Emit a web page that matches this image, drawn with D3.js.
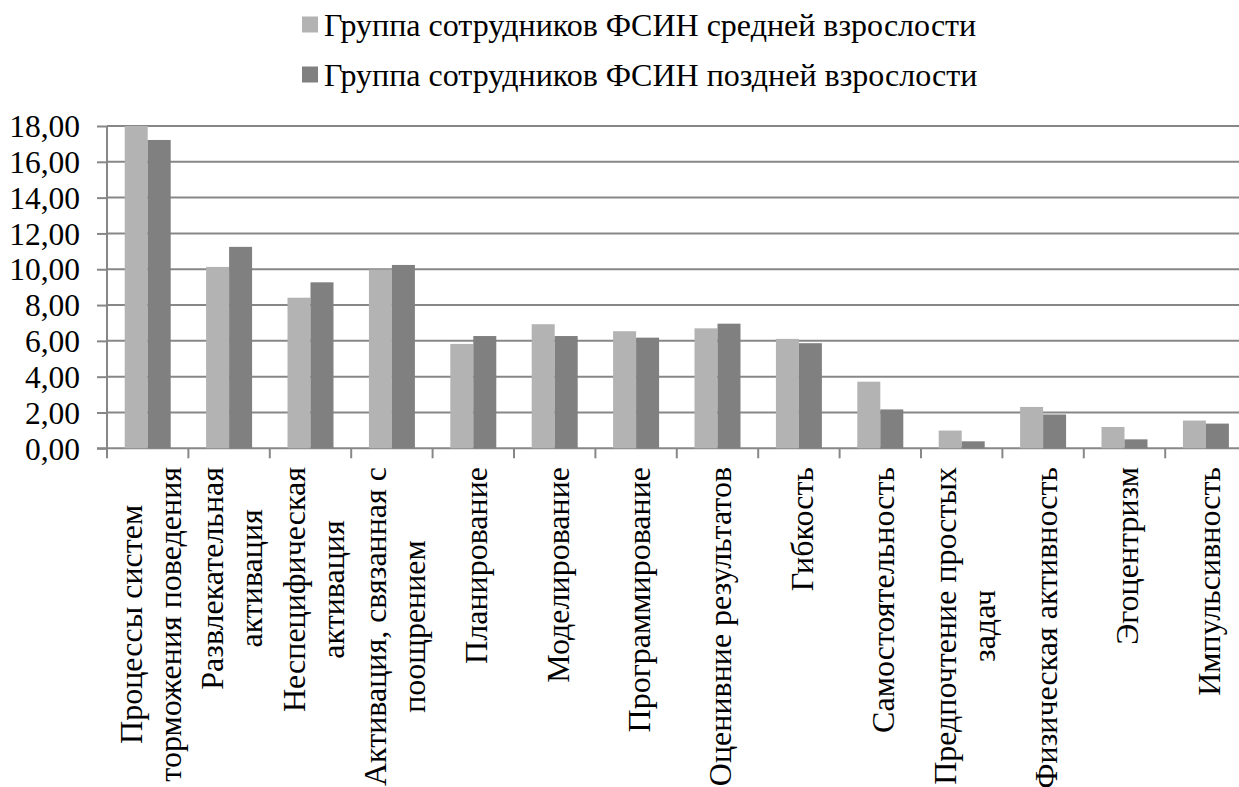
<!DOCTYPE html>
<html><head><meta charset="utf-8">
<script src="https://cdn.jsdelivr.net/npm/d3@7/dist/d3.min.js"></script>
<style>body{margin:0;background:#fff}svg{display:block}</style>
</head><body>
<svg id="c" width="1239" height="787"></svg>
<script>
const categories = [
  ["Процессы систем","торможения поведения"],
  ["Развлекательная","активация"],
  ["Неспецифическая","активация"],
  ["Активация, связанная с","поощрением"],
  ["Планирование"],
  ["Моделирование"],
  ["Программирование"],
  ["Оценивние результатов"],
  ["Гибкость"],
  ["Самостоятельность"],
  ["Предпочтение простых","задач"],
  ["Физическая активность"],
  ["Эгоцентризм"],
  ["Импульсивность"]
];
const seriesNames = ["Группа сотрудников ФСИН средней взрослости","Группа сотрудников ФСИН поздней взрослости"];
const middleAge = [18.00,10.13,8.41,9.98,5.83,6.93,6.54,6.70,6.11,3.72,0.99,2.31,1.19,1.55];
const lateAge   = [17.22,11.25,9.27,10.24,6.27,6.27,6.18,6.96,5.87,2.17,0.39,1.89,0.50,1.38];
const yTicks = [0,2,4,6,8,10,12,14,16,18];
const colors = ["#b3b3b3","#808080"];
const FONT = "Liberation Serif";

const svg = d3.select("#c");
const L = 107, R = 1246.6, T = 126, B = 448.3;
const keys = categories.map((c,i)=>i);
const x0 = d3.scaleBand().domain(keys).range([L,R]).paddingInner(0.435).paddingOuter(0.2175);
const x1 = d3.scaleBand().domain([0,1]).range([0,x0.bandwidth()]);
const y = d3.scaleLinear().domain([0,18]).range([B,T]);
const fmt = v => d3.format(".2f")(v).replace(".",",");

// gridlines
svg.append("g").selectAll("line").data(yTicks).join("line")
  .attr("x1",L).attr("x2",R).attr("y1",d=>y(d)).attr("y2",d=>y(d))
  .attr("stroke","#878787").attr("stroke-width",2);

// bars
const series = [middleAge, lateAge];
const g = svg.append("g");
series.forEach((vals,s)=>{
  g.selectAll(null).data(vals).join("rect")
    .attr("x",(d,i)=>x0(i)+x1(s))
    .attr("width",x1.bandwidth())
    .attr("y",d=>y(Math.min(d,18)))
    .attr("height",d=>y(0)-y(Math.min(d,18)))
    .attr("fill",colors[s]);
});

// y axis
const ya = svg.append("g").attr("transform",`translate(${L},0)`)
  .call(d3.axisLeft(y).tickValues(yTicks).tickFormat(fmt).tickSize(10).tickPadding(17));
ya.attr("font-family",null);
ya.select(".domain").attr("stroke","#878787").attr("stroke-width",2).attr("d",`M-10,${B}H0V${T}`);
ya.selectAll(".tick line").attr("stroke","#878787").attr("stroke-width",2);
ya.selectAll(".tick text").style("font-family",FONT).attr("font-size",31.5).attr("fill","#000").attr("dy","0.34em");

// x axis tick marks at category boundaries
const step = x0.step();
const bounds = d3.range(categories.length+1).map(i=>L+i*step);
svg.append("g").selectAll("line").data(bounds).join("line")
  .attr("x1",d=>d).attr("x2",d=>d).attr("y1",B).attr("y2",B+10)
  .attr("stroke","#878787").attr("stroke-width",2);

// category labels
const fs = 32, lh = 39, topY = 467;
categories.forEach((lines,i)=>{
  const cx = x0(i)+x0.bandwidth()/2 + 3;
  const grp = svg.append("g");
  const texts = lines.map((t,j)=>grp.append("text").style("font-family",FONT).attr("font-size",fs).attr("fill","#000").attr("text-anchor","middle").text(t));
  const maxW = d3.max(texts, t=>t.node().getComputedTextLength());
  const cy = topY + maxW/2;
  texts.forEach((t,j)=>{
    const off = (j-(lines.length-1)/2)*lh;
    t.attr("transform",`translate(${cx+off},${cy}) rotate(-90)`).attr("dy","0.34em");
  });
});

// legend
const lg = svg.append("g");
seriesNames.forEach((n,s)=>{
  const by = [35.5,85.5][s];
  lg.append("rect").attr("x",302).attr("y",by-19).attr("width",16).attr("height",16).attr("fill",colors[s]);
  lg.append("text").attr("x",324).attr("y",by).style("font-family",FONT).attr("font-size",32).attr("fill","#000").text(n);
});
</script>
</body></html>
